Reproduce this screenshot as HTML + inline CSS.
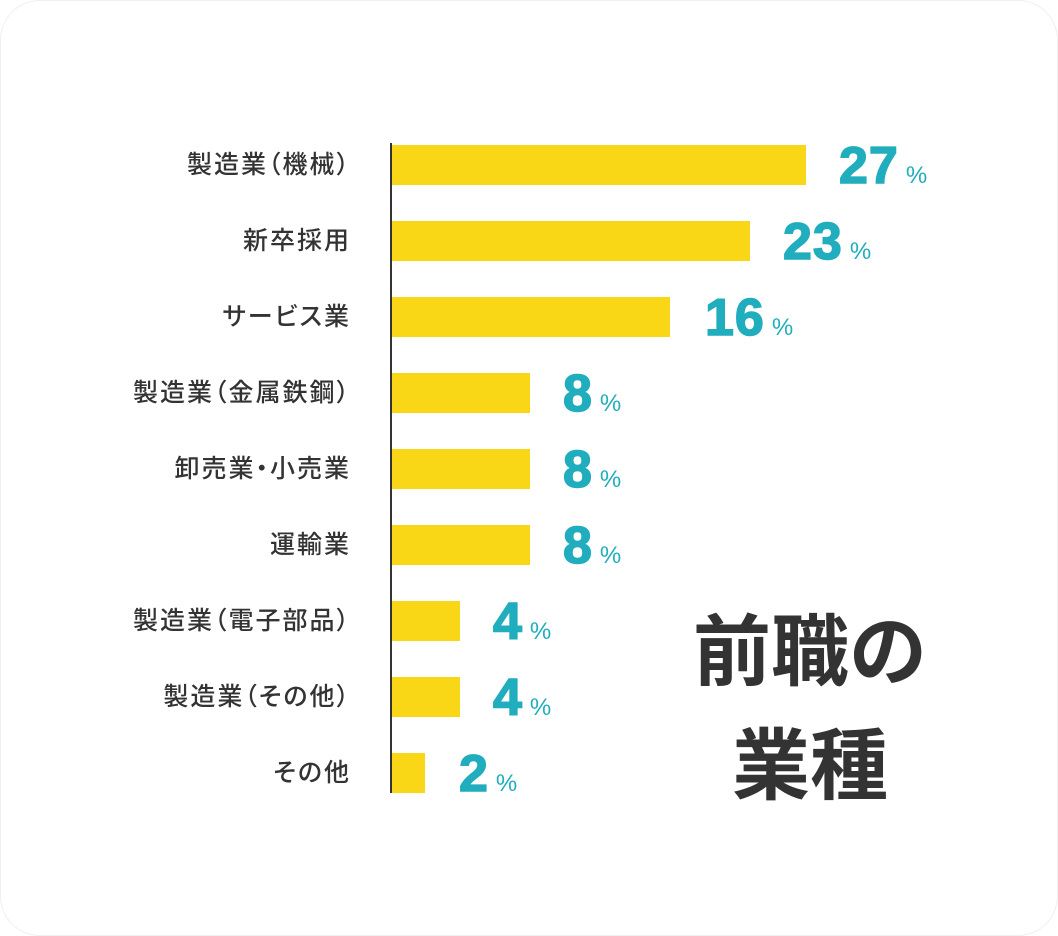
<!DOCTYPE html><html><head><meta charset="utf-8"><style>
body{margin:0;width:1058px;height:936px;background:#fff;font-family:"Liberation Sans","Noto Sans CJK JP",sans-serif;position:relative;overflow:hidden}
.card{position:absolute;left:0;top:0;width:1056px;height:934px;border:1px solid #f0f0f0;border-radius:40px}
.lab{position:absolute;right:707px;font-size:25px;letter-spacing:2px;color:#333;height:40px;line-height:36px;white-space:nowrap;font-family:"Noto Sans CJK JP",sans-serif;font-weight:500;font-feature-settings:"palt"}
.bar{position:absolute;left:391px;height:40px;background:#f9d716}
.val{position:absolute;color:#20adbd;font-weight:900;font-size:52px;line-height:40px;height:40px;white-space:nowrap;letter-spacing:1px;-webkit-text-stroke:1.5px #20adbd}
.val span{font-size:24px;font-weight:normal;margin-left:7px;-webkit-text-stroke:0}
.axis{position:absolute;left:390px;top:143px;width:2px;height:650px;background:#333}
.title{position:absolute;left:660px;width:300px;text-align:center;font-size:78px;font-weight:bold;color:#333;line-height:1}
</style></head><body><div class="card"></div>
<div class="lab" style="top:145px">製造業（機械）</div><div class="bar" style="top:145px;width:415px"></div><div class="val" style="top:146px;left:839px">27<span>%</span></div>
<div class="lab" style="top:221px">新卒採用</div><div class="bar" style="top:221px;width:359px"></div><div class="val" style="top:222px;left:783px">23<span>%</span></div>
<div class="lab" style="top:297px">サービス業</div><div class="bar" style="top:297px;width:279px"></div><div class="val" style="top:298px;left:705px">16<span>%</span></div>
<div class="lab" style="top:373px">製造業（金属鉄鋼）</div><div class="bar" style="top:373px;width:139px"></div><div class="val" style="top:374px;left:563px">8<span>%</span></div>
<div class="lab" style="top:449px">卸売業・小売業</div><div class="bar" style="top:449px;width:139px"></div><div class="val" style="top:450px;left:563px">8<span>%</span></div>
<div class="lab" style="top:525px">運輸業</div><div class="bar" style="top:525px;width:139px"></div><div class="val" style="top:526px;left:563px">8<span>%</span></div>
<div class="lab" style="top:601px">製造業（電子部品）</div><div class="bar" style="top:601px;width:69px"></div><div class="val" style="top:602px;left:493px">4<span>%</span></div>
<div class="lab" style="top:677px">製造業（その他）</div><div class="bar" style="top:677px;width:69px"></div><div class="val" style="top:678px;left:493px">4<span>%</span></div>
<div class="lab" style="top:753px">その他</div><div class="bar" style="top:753px;width:34px"></div><div class="val" style="top:754px;left:459px">2<span>%</span></div>
<div class="axis"></div>
<div class="title" style="top:613px">前職の</div>
<div class="title" style="top:727px">業種</div>
</body></html>
